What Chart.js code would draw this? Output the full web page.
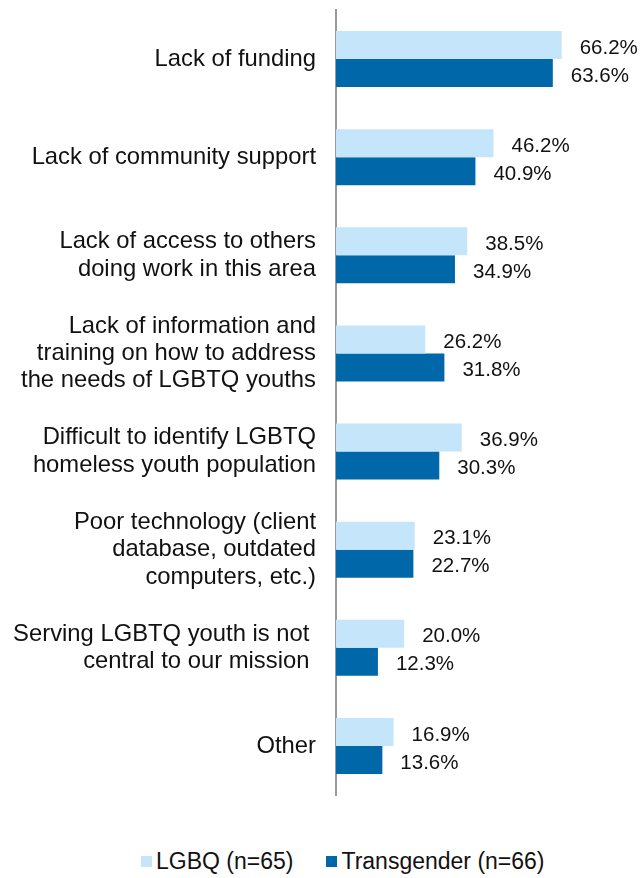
<!DOCTYPE html>
<html>
<head>
<meta charset="utf-8">
<script src="https://cdn.jsdelivr.net/npm/chart.js@4/dist/chart.umd.min.js"></script>
<style>
  html, body { margin:0; padding:0; background:#fff; }
  body { width:641px; height:878px; position:relative; overflow:hidden;
         font-family:"Liberation Sans", Arial, Helvetica, sans-serif; }
  #wrap { position:absolute; left:0; top:0; width:641px; height:800px; }
  #legend { position:absolute; left:141px; top:848px; display:flex; align-items:center;
            font-size:23px; color:#111; white-space:nowrap; }
  .item { display:flex; align-items:center; }
  .item + .item { margin-left:33px; }
  .box { width:11px; height:11px; margin-right:4px; }
</style>
</head>
<body>
<div id="wrap"><canvas id="chart"></canvas></div>
<div id="legend"></div>
<script>
// categorias (multilínea tal como en la figura)
const categories = [
  ['Lack of funding'],
  ['Lack of community support'],
  ['Lack of access to others', 'doing work in this area'],
  ['Lack of information and', 'training on how to address', 'the needs of LGBTQ youths'],
  ['Difficult to identify LGBTQ', 'homeless youth population'],
  ['Poor technology (client', 'database, outdated', 'computers, etc.)'],
  ['Serving LGBTQ youth is not ', 'central to our mission '],
  ['Other']
];
const lgbqValues = [66.2, 46.2, 38.5, 26.2, 36.9, 23.1, 20.0, 16.9];
const transValues = [63.6, 40.9, 34.9, 31.8, 30.3, 22.7, 12.3, 13.6];
const seriesNames = ['LGBQ (n=65)', 'Transgender (n=66)'];
const seriesColors = ['#C5E5FB', '#0067A9'];

const FONT = '"Liberation Sans", Arial, Helvetica, sans-serif';

// etiquetas de valor a la derecha de cada barra
const valueLabels = {
  id: 'valueLabels',
  afterDatasetsDraw(chart){
    const ctx = chart.ctx;
    ctx.save();
    ctx.font = '20.5px ' + FONT;
    ctx.fillStyle = '#111';
    ctx.textAlign = 'left';
    ctx.textBaseline = 'middle';
    chart.data.datasets.forEach((ds, i)=>{
      chart.getDatasetMeta(i).data.forEach((bar, j)=>{
        ctx.fillText(ds.data[j].toFixed(1) + '%', bar.x + 18, bar.y + 3);
      });
    });
    ctx.restore();
  }
};

const chart = new Chart(document.getElementById('chart'), {
  type: 'bar',
  data: {
    labels: categories,
    datasets: [
      { label: seriesNames[0], data: lgbqValues, backgroundColor: seriesColors[0] },
      { label: seriesNames[1], data: transValues, backgroundColor: seriesColors[1] }
    ]
  },
  options: {
    indexAxis: 'y',
    responsive: true,
    maintainAspectRatio: false,
    animation: false,
    layout: { padding: { top: 10, right: 5, bottom: 5, left: 0 } },
    datasets: { bar: { barPercentage: 1, categoryPercentage: 0.57 } },
    scales: {
      x: { display: false, min: 0, max: 88 },
      y: {
        grid: { display: false, drawTicks: false },
        border: { display: true, color: '#999', width: 2 },
        ticks: {
          padding: 20,
          color: '#111',
          font: { family: FONT, size: 23.8, lineHeight: 1.155 }
        },
        afterFit: (s)=>{ s.width = 336; s.paddingTop = 0; s.paddingBottom = 0; }
      }
    },
    plugins: {
      legend: { display: false },
      tooltip: { enabled: false }
    }
  },
  plugins: [valueLabels]
});

// leyenda HTML a partir de los datasets
const legendEl = document.getElementById('legend');
chart.data.datasets.forEach(ds=>{
  const it = document.createElement('div');
  it.className = 'item';
  const b = document.createElement('span');
  b.className = 'box';
  b.style.background = ds.backgroundColor;
  const t = document.createElement('span');
  t.textContent = ds.label;
  it.appendChild(b); it.appendChild(t);
  legendEl.appendChild(it);
});
</script>
</body>
</html>
